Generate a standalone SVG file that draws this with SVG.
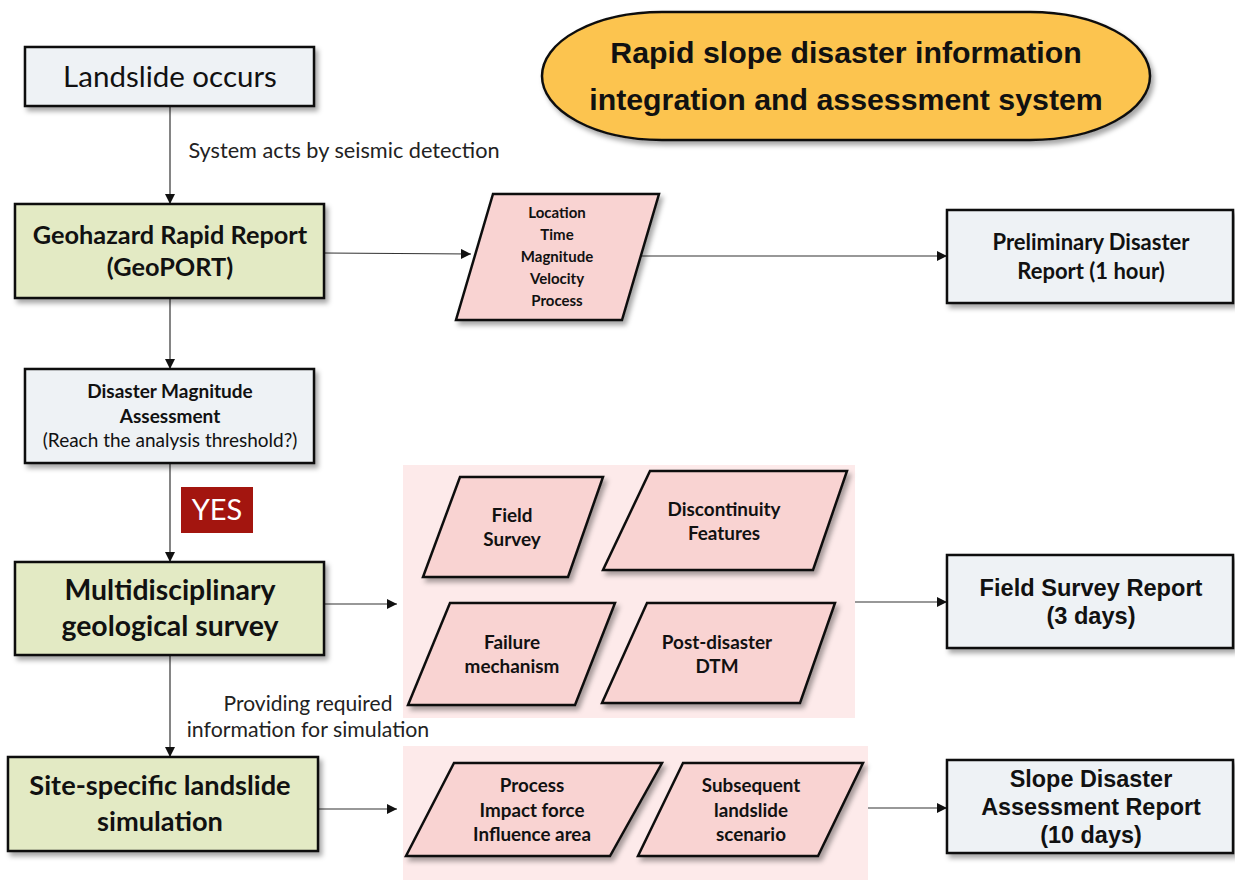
<svg xmlns="http://www.w3.org/2000/svg" width="1235" height="880" viewBox="0 0 1235 880">
<defs>
<filter id="sh" x="-10%" y="-10%" width="125%" height="130%">
<feDropShadow dx="3" dy="4" stdDeviation="2.5" flood-color="#000" flood-opacity="0.35"/>
</filter>
<marker id="ah" viewBox="0 0 10 10" refX="10" refY="5" markerWidth="10" markerHeight="10" markerUnits="userSpaceOnUse" orient="auto">
<path d="M0,0 L10,5 L0,10 z" fill="#111"/>
</marker>
</defs>
<style>
.box{stroke:#111;stroke-width:2.5;filter:url(#sh)}
.grey{fill:#eef2f5}
.green{fill:#e3eac4}
.para{fill:#f9d3d2;stroke:#111;stroke-width:2.5;filter:url(#sh)}
.panel{fill:#fdeaea}
.c{font-family:Lato,"Open Sans",sans-serif;text-anchor:middle;fill:#111}
.b{font-weight:bold}
.a{font-family:"Liberation Sans",Arial,sans-serif;font-weight:bold;text-anchor:middle;fill:#111}
.ln{stroke:#333;stroke-width:1.2;fill:none;marker-end:url(#ah)}
</style>
<rect width="1235" height="880" fill="#fff"/>

<g id="panels">
<rect class="panel" x="403" y="465" width="452" height="253"/>
<rect class="panel" x="403" y="746" width="465" height="134"/>
</g>

<g id="connectors">
<line class="ln" x1="170" y1="106" x2="170" y2="204"/>
<line class="ln" x1="324" y1="253" x2="471" y2="254"/>
<line class="ln" x1="642" y1="256" x2="947" y2="256"/>
<line class="ln" x1="170" y1="298" x2="170" y2="369"/>
<line class="ln" x1="170" y1="463" x2="170" y2="562"/>
<line class="ln" x1="324" y1="604" x2="397" y2="604"/>
<line class="ln" x1="855" y1="602" x2="947" y2="602"/>
<line class="ln" x1="170" y1="655" x2="170" y2="757"/>
<line class="ln" x1="318" y1="809" x2="397" y2="809"/>
<line class="ln" x1="868" y1="808" x2="947" y2="808"/>
<text class="c" x="344" y="158" font-size="21.7" style="fill:#222">System acts by seismic detection</text>
<text class="c" x="308" y="711" font-size="21" style="fill:#222">Providing required</text>
<text class="c" x="308" y="737" font-size="21.3" style="fill:#222">information for simulation</text>
</g>

<g id="title">
<rect x="542" y="12" width="608" height="128" rx="120" ry="64" fill="#fcc450" stroke="#111" stroke-width="2.5" filter="url(#sh)"/>
<text class="a" x="846" y="63" font-size="30.3">Rapid slope disaster information</text>
<text class="a" x="846" y="110" font-size="30.3">integration and assessment system</text>
</g>

<g id="landslide">
<rect class="box grey" x="25" y="47" width="289" height="59"/>
<text class="c" x="170" y="87" font-size="29.5">Landslide occurs</text>
</g>

<g id="geoport">
<rect class="box green" x="15" y="204" width="309" height="94"/>
<text class="c b" x="170" y="244" font-size="25.3">Geohazard Rapid Report</text>
<text class="c b" x="170" y="276" font-size="25.3">(GeoPORT)</text>
</g>

<g id="info1">
<polygon class="para" points="493,194 659,194 622,320 456,320"/>
<text class="c b" x="557" y="218" font-size="15">Location</text>
<text class="c b" x="557" y="240" font-size="15">Time</text>
<text class="c b" x="557" y="262" font-size="15">Magnitude</text>
<text class="c b" x="557" y="284" font-size="15">Velocity</text>
<text class="c b" x="557" y="306" font-size="15">Process</text>
</g>

<g id="preliminary">
<rect class="box grey" x="947" y="210" width="286" height="93"/>
<text class="c b" x="1091" y="250" font-size="22">Preliminary Disaster</text>
<text class="c b" x="1091" y="279" font-size="22">Report (1 hour)</text>
</g>

<g id="assessment">
<rect class="box grey" x="25" y="369" width="289" height="94"/>
<text class="c b" x="170" y="398" font-size="19">Disaster Magnitude</text>
<text class="c b" x="170" y="423" font-size="19">Assessment</text>
<text class="c" x="170" y="447" font-size="19">(Reach the analysis threshold?)</text>
</g>

<g id="yes">
<rect x="181" y="487" width="72" height="46" fill="#a3150f"/>
<text class="c" x="217" y="520" font-size="29" style="fill:#fff">YES</text>
</g>

<g id="survey">
<rect class="box green" x="15" y="562" width="309" height="93"/>
<text class="c b" x="170" y="600" font-size="28.4">Multidisciplinary</text>
<text class="c b" x="170" y="636" font-size="28.4">geological survey</text>
</g>

<g id="fieldsurvey">
<polygon class="para" points="460,477 603,477 568,577 423,577"/>
<text class="c b" x="512" y="522" font-size="18.9">Field</text>
<text class="c b" x="512" y="546" font-size="18.9">Survey</text>
</g>

<g id="discontinuity">
<polygon class="para" points="650,471 847,471 813,570 603,570"/>
<text class="c b" x="724" y="516" font-size="18.9">Discontinuity</text>
<text class="c b" x="724" y="540" font-size="18.9">Features</text>
</g>

<g id="failure">
<polygon class="para" points="450,603 615,603 575,705 408,705"/>
<text class="c b" x="512" y="649" font-size="18.9">Failure</text>
<text class="c b" x="512" y="673" font-size="18.9">mechanism</text>
</g>

<g id="dtm">
<polygon class="para" points="647,603 835,603 800,703 602,703"/>
<text class="c b" x="717" y="649" font-size="18.9">Post-disaster</text>
<text class="c b" x="717" y="673" font-size="18.9">DTM</text>
</g>

<g id="fieldreport">
<rect class="box grey" x="947" y="555" width="286" height="93"/>
<text class="a" x="1091" y="596" font-size="23.6">Field Survey Report</text>
<text class="a" x="1091" y="624" font-size="23.6">(3 days)</text>
</g>

<g id="simulation">
<rect class="box green" x="8" y="757" width="310" height="94"/>
<text class="c b" x="160" y="795" font-size="27.2">Site-specific landslide</text>
<text class="c b" x="160" y="831" font-size="27.2">simulation</text>
</g>

<g id="impact">
<polygon class="para" points="454,763 662,763 610,856 406,856"/>
<text class="c b" x="532" y="792" font-size="18.8">Process</text>
<text class="c b" x="532" y="817" font-size="18.8">Impact force</text>
<text class="c b" x="532" y="841" font-size="18.8">Influence area</text>
</g>

<g id="scenario">
<polygon class="para" points="683,763 863,763 818,856 638,856"/>
<text class="c b" x="751" y="792" font-size="18.8">Subsequent</text>
<text class="c b" x="751" y="817" font-size="18.8">landslide</text>
<text class="c b" x="751" y="841" font-size="18.8">scenario</text>
</g>

<g id="slopereport">
<rect class="box grey" x="947" y="760" width="286" height="93"/>
<text class="a" x="1091" y="787" font-size="23.4">Slope Disaster</text>
<text class="a" x="1091" y="815" font-size="23.4">Assessment Report</text>
<text class="a" x="1091" y="843" font-size="23.4">(10 days)</text>
</g>
</svg>
